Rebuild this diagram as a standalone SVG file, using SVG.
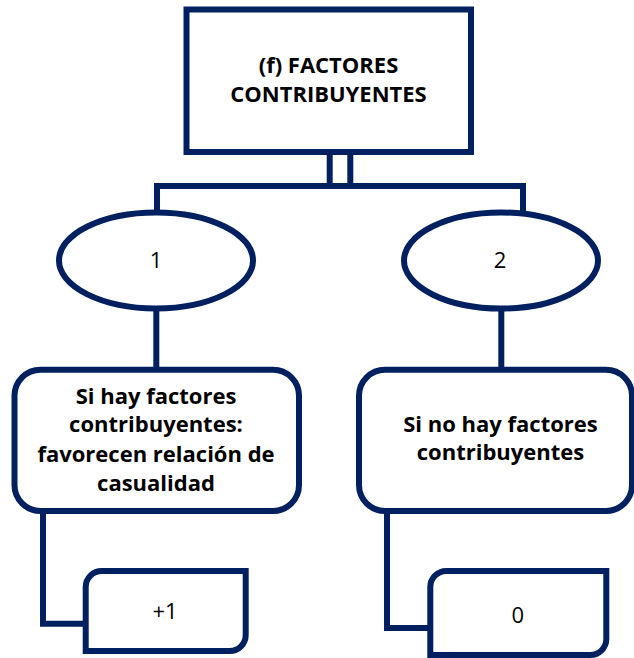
<svg xmlns="http://www.w3.org/2000/svg" width="634" height="658" viewBox="0 0 634 658">
  <style>
    .shape { fill: #ffffff; stroke: #002060; stroke-width: 6; }
    .link { fill: none; stroke: #002060; stroke-width: 6; stroke-linejoin: miter; stroke-linecap: butt; }
    .bold { font-family: "Open Sans", Lato, "Liberation Sans", sans-serif; font-weight: bold; font-size: 22px; fill: #000000; text-anchor: middle; }
    .plain { font-family: "Open Sans", Lato, "Liberation Sans", sans-serif; font-size: 22px; fill: #000000; text-anchor: middle; }
  </style>

  <!-- connectors -->
  <g id="connectors">
    <path class="link" d="M329.7,152 V186 M350.3,152 V186"/>
    <path class="link" d="M157,213 V186 H523 V213"/>
    <path class="link" d="M156.3,308 V370"/>
    <path class="link" d="M501.3,308 V370"/>
    <path class="link" d="M43,511 V623.7 H86"/>
    <path class="link" d="M387,511 V628 H430"/>
  </g>

  <!-- root -->
  <g id="root">
    <rect class="shape" x="186.5" y="9.5" width="284.5" height="142.5"/>
    <text class="bold" x="328.5" y="73">(f) FACTORES</text>
    <text class="bold" x="328.5" y="102">CONTRIBUYENTES</text>
  </g>

  <!-- branch ellipses -->
  <g id="option-1">
    <ellipse class="shape" cx="156" cy="260.4" rx="97" ry="48"/>
    <text class="plain" x="156" y="268">1</text>
  </g>
  <g id="option-2">
    <ellipse class="shape" cx="501" cy="260.5" rx="97" ry="48"/>
    <text class="plain" x="500" y="268">2</text>
  </g>

  <!-- condition boxes -->
  <g id="condition-yes">
    <rect class="shape" x="14.5" y="369.7" width="284.5" height="141.3" rx="26" ry="26"/>
    <text class="bold" x="156" y="404.3">Si hay factores</text>
    <text class="bold" x="156" y="432">contribuyentes:</text>
    <text class="bold" x="156" y="461.7">favorecen relación de</text>
    <text class="bold" x="156" y="490.7">casualidad</text>
  </g>
  <g id="condition-no">
    <rect class="shape" x="359" y="369.7" width="273" height="141.3" rx="26" ry="26"/>
    <text class="bold" x="500.5" y="431.7">Si no hay factores</text>
    <text class="bold" x="500.5" y="460">contribuyentes</text>
  </g>

  <!-- scores -->
  <g id="score-plus-one">
    <path class="shape" d="M102,571 H245.7 V635 A16,16 0 0 1 229.7,651 H85.7 V587 A16,16 0 0 1 102,571 Z"/>
    <text class="plain" x="165" y="618.5">+1</text>
  </g>
  <g id="score-zero">
    <path class="shape" d="M446.3,571 H606.3 V639 A16,16 0 0 1 590.3,655 H430.3 V587 A16,16 0 0 1 446.3,571 Z"/>
    <text class="plain" x="517.7" y="623.3">0</text>
  </g>
</svg>
